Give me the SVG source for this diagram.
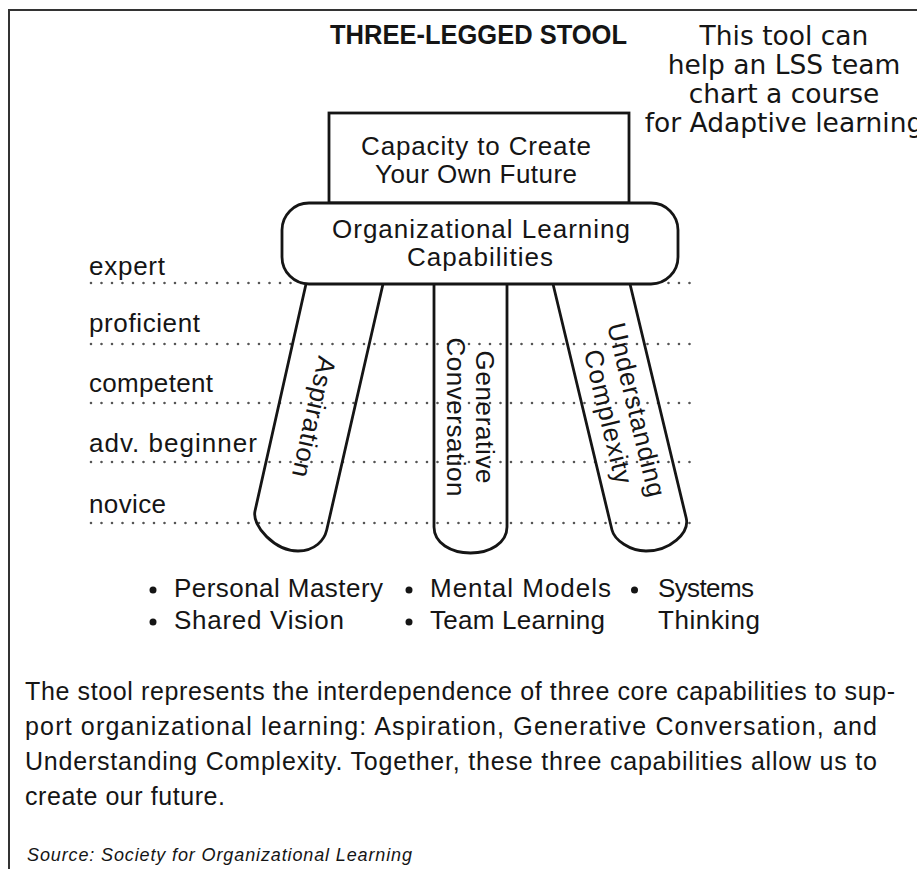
<svg xmlns="http://www.w3.org/2000/svg" width="917" height="869" viewBox="0 0 917 869">
<style>
.t{font-family:"Liberation Sans",Arial,sans-serif;fill:#151515}
.f26{font-size:26px}
.dj{font-family:"DejaVu Sans",Verdana,sans-serif;font-size:26.5px;fill:#151515;text-anchor:middle}
.shape{fill:none;stroke:#151515;stroke-width:2.8;stroke-linejoin:round}
.box{fill:#fff;stroke:#151515;stroke-width:2.8}
.dots{stroke:#555;stroke-width:2.6;stroke-linecap:round;stroke-dasharray:0 10.5;fill:none}
.border{stroke:#333;stroke-width:2;fill:none}
</style>
<rect width="917" height="869" fill="#fff"/>
<path class="border" d="M917,10 H9 V869"/>

<g id="title">
<text class="t" x="330" y="44" font-size="27" font-weight="bold" textLength="297" lengthAdjust="spacingAndGlyphs">THREE-LEGGED STOOL</text>
</g>
<g id="note">
<text class="dj" x="784" y="45">This tool can</text>
<text class="dj" x="784" y="74">help an LSS team</text>
<text class="dj" x="784" y="103">chart a course</text>
<text class="dj" x="784" y="132">for Adaptive learning</text>
</g>

<g id="levels">
<path class="dots" d="M91,283 H698 M91,344 H698 M91,403 H698 M91,462 H698 M91,523 H698"/>
<text class="t f26" x="89" y="275" textLength="76">expert</text>
<text class="t f26" x="89" y="332" textLength="111">proficient</text>
<text class="t f26" x="89" y="392" textLength="124">competent</text>
<text class="t f26" x="89" y="452" textLength="168">adv. beginner</text>
<text class="t f26" x="89" y="513" textLength="77">novice</text>
</g>

<g id="connectors">
<g id="leg-aspiration">
<path class="shape" d="M306,284 L255,511 C251.6,526 275,551 298,551 C315,551 324.4,540 326.7,530 L383,284"/>
<text class="t f26" transform="translate(314,417) rotate(102.6)" x="0" y="9" text-anchor="middle" textLength="123">Aspiration</text>
</g>
<g id="leg-generative">
<path class="shape" d="M434,284 L434,527 C434,543 451,553 470.5,553 C490,553 507,543 507,527 L507,284"/>
<g transform="translate(470.5,417) rotate(90)">
<text class="t f26" x="0" y="-5" text-anchor="middle" textLength="133">Generative</text>
<text class="t f26" x="0" y="24" text-anchor="middle" textLength="159">Conversation</text>
</g>
</g>
<g id="leg-complexity">
<path class="shape" d="M553,284 L612,530 C614.4,540 630,551 646,551 C670,551 689.8,533 686.2,518 L630,284"/>
<g transform="translate(623,413) rotate(76.5)">
<text class="t f26" x="0" y="-5" text-anchor="middle" textLength="178">Understanding</text>
<text class="t f26" x="0" y="24" text-anchor="middle" textLength="137">Complexity</text>
</g>
</g>
</g>

<g id="capacity">
<rect class="box" x="329" y="113" width="300" height="90"/>
<text class="t f26" x="476" y="155" text-anchor="middle" textLength="230">Capacity to Create</text>
<text class="t f26" x="476" y="183" text-anchor="middle" textLength="202">Your Own Future</text>
</g>

<g id="capabilities">
<rect class="box" x="282" y="203" width="396" height="81" rx="27" ry="27"/>
<text class="t f26" x="481" y="238" text-anchor="middle" textLength="298">Organizational Learning</text>
<text class="t f26" x="480" y="266" text-anchor="middle" textLength="146">Capabilities</text>
</g>

<g id="disciplines">
<circle cx="153" cy="590" r="3.5" fill="#151515"/>
<circle cx="409" cy="590" r="3.5" fill="#151515"/>
<circle cx="634.5" cy="590" r="3.5" fill="#151515"/>
<circle cx="153" cy="622" r="3.5" fill="#151515"/>
<circle cx="409" cy="622" r="3.5" fill="#151515"/>
<text class="t f26" x="174" y="597" textLength="209">Personal Mastery</text>
<text class="t f26" x="430" y="597" textLength="181">Mental Models</text>
<text class="t f26" x="658" y="597" textLength="96">Systems</text>
<text class="t f26" x="174" y="629" textLength="170">Shared Vision</text>
<text class="t f26" x="430" y="629" textLength="175">Team Learning</text>
<text class="t f26" x="658" y="629" textLength="102">Thinking</text>
</g>

<g id="description">
<text class="t" font-size="25" x="25" y="700" textLength="870">The stool represents the interdependence of three core capabilities to sup-</text>
<text class="t" font-size="25" x="25" y="735" textLength="852">port organizational learning: Aspiration, Generative Conversation, and</text>
<text class="t" font-size="25" x="25" y="770" textLength="852">Understanding Complexity. Together, these three capabilities allow us to</text>
<text class="t" font-size="25" x="25" y="805" textLength="200">create our future.</text>
<text class="t" font-size="18" font-style="italic" x="27" y="861" textLength="385">Source: Society for Organizational Learning</text>
</g>
</svg>
